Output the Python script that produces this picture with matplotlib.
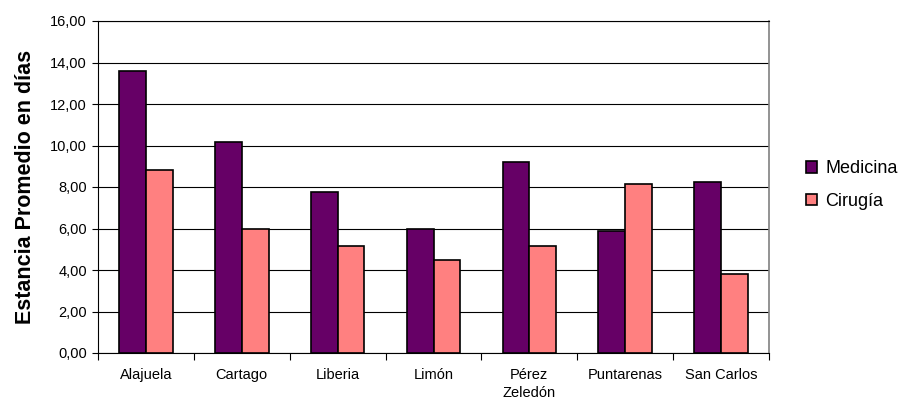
import matplotlib
matplotlib.use('Agg')
import matplotlib.pyplot as plt
import numpy as np
from matplotlib.ticker import FuncFormatter, MultipleLocator, FixedLocator

plt.rcParams['font.family'] = ['Liberation Sans', 'DejaVu Sans']

regiones = ['Alajuela', 'Cartago', 'Liberia', 'Limón', 'Pérez\nZeledón', 'Puntarenas', 'San Carlos']
medicina = [13.6, 10.15, 7.75, 6.0, 9.2, 5.9, 8.25]
cirugia = [8.8, 6.0, 5.15, 4.5, 5.15, 8.15, 3.8]

fig = plt.figure(figsize=(9.05, 4.0), dpi=100)
ax = fig.add_axes([98 / 905, 47 / 400, 671 / 905, 332 / 400])

x = np.arange(len(regiones))
ancho = 0.28
ax.bar(x - ancho / 2, medicina, ancho, color='#660066', edgecolor='black', linewidth=1.2,
       label='Medicina', zorder=3)
ax.bar(x + ancho / 2, cirugia, ancho, color='#FF8080', edgecolor='black', linewidth=1.2,
       label='Cirugía', zorder=3)

ax.set_xlim(-0.5, len(regiones) - 0.5)
ax.set_ylim(0, 16)
ax.yaxis.set_major_locator(MultipleLocator(2))
ax.yaxis.set_major_formatter(FuncFormatter(lambda v, p: f'{v:.2f}'.replace('.', ',')))
ax.grid(axis='y', color='black', linewidth=0.8, zorder=0)

# etiquetas centradas, marcas entre categorías
ax.set_xticks(x)
ax.set_xticklabels(regiones, fontsize=10.5, va='top', linespacing=1.3)
ax.tick_params(axis='x', length=0, pad=11)
ax.xaxis.set_minor_locator(FixedLocator(np.arange(-0.5, len(regiones), 1)))
ax.tick_params(axis='x', which='minor', length=5, width=0.8, color='black')
ax.tick_params(axis='y', length=4, width=0.8, labelsize=10.5, pad=4)

for lado in ['left', 'bottom', 'top']:
    ax.spines[lado].set_color('black')
    ax.spines[lado].set_linewidth(0.8)
ax.spines['right'].set_color('#808080')
ax.spines['right'].set_linewidth(1.2)

ax.set_ylabel('Estancia Promedio en días', fontsize=15.5, fontweight='bold')
ax.yaxis.set_label_coords(-0.093, 0.5)

fig.legend(loc='center left', bbox_to_anchor=(790 / 905, 1 - 185 / 400), frameon=False,
           fontsize=13, handlelength=0.6, handleheight=0.6, handletextpad=0.45, labelspacing=0.85)

fig.savefig('out.png', dpi=100)
